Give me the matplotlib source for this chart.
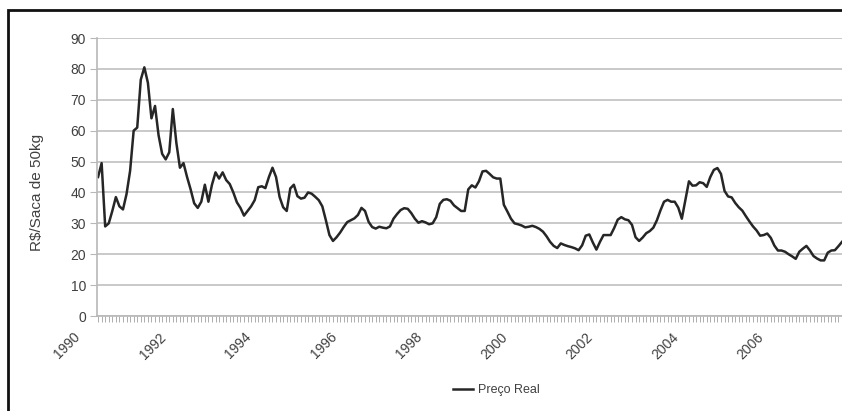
import numpy as np
import matplotlib.pyplot as plt
from matplotlib.patches import Rectangle
from matplotlib.transforms import offset_copy

plt.rcParams['font.family'] = ['Liberation Sans', 'DejaVu Sans']

# preço real mensal (R$/saca de 50kg), jan/1990 em diante
preco_real = [
    45, 49.5, 29, 30, 34, 38.5, 35.5, 34.5, 39.5, 47, 60, 61,
    76.5, 80.5, 75.5, 64, 68, 58.5, 52.5, 50.7, 53, 67, 56, 48,
    49.5, 45, 41, 36.5, 35, 37, 42.5, 37, 42.5, 46.5, 44.5, 46.5,
    44, 42.7, 40, 36.8, 35, 32.5, 34, 35.5, 37.5, 41.7, 42, 41.4,
    45, 48, 45, 38.5, 35.2, 34, 41.3, 42.5, 38.8, 38, 38.3, 40,
    39.6, 38.6, 37.5, 35.5, 31, 26.2, 24.3, 25.5, 27, 28.8, 30.4, 31,
    31.6, 32.7, 35, 34, 30.5, 28.8, 28.3, 28.9, 28.6, 28.4, 29, 31.5,
    33, 34.3, 34.9, 34.7, 33.3, 31.5, 30.2, 30.7, 30.3, 29.7, 30, 32,
    36.3, 37.6, 37.8, 37.3, 35.8, 34.9, 34, 34, 41, 42.3, 41.6, 43.6,
    46.8, 47, 46, 44.9, 44.5, 44.5, 36, 33.8, 31.5, 30, 29.7, 29.3,
    28.7, 28.9, 29.2, 28.8, 28.2, 27.3, 25.8, 24, 22.7, 22, 23.5, 23,
    22.6, 22.3, 21.9, 21.3, 22.9, 26, 26.4, 23.8, 21.5, 24, 26.2, 26.2,
    26.2, 28.5, 31.2, 32, 31.3, 31, 29.5, 25.5, 24.3, 25.4, 26.8, 27.5,
    28.6, 31, 34.2, 37, 37.6, 37, 37, 35.1, 31.5, 37.5, 43.6, 42.2,
    42.3, 43.3, 43, 41.8, 45, 47.3, 47.9, 46, 40.5, 38.7, 38.4, 36.6,
    35.2, 34.1, 32.3, 30.6, 29, 27.7, 26, 26.2, 26.7, 25.3, 22.8, 21.2,
    21.2, 20.8, 20, 19.3, 18.5, 20.8, 21.8, 22.7, 21.2, 19.4, 18.6, 18,
    18, 20.5, 21.2, 21.3, 22.6, 24,
]
anos = ['1990', '1992', '1994', '1996', '1998', '2000', '2002', '2004', '2006']

W, H = 842, 411
fig = plt.figure(figsize=(W / 100, H / 100), dpi=100)
ax = fig.add_axes([97 / W, 95 / H, 1 - 97 / W, (373 - 95) / H])

x = np.arange(len(preco_real))
ax.plot(x, preco_real, color='#262626', lw=1.8, label='Preço Real')

ax.set_ylim(0, 90)
ax.set_yticks(range(0, 91, 10))
ax.set_xlim(-0.3, 208.4)
ax.yaxis.grid(True, color='#c0c0c0', lw=1.2)
ax.set_axisbelow(True)
for s in ['top', 'right']:
    ax.spines[s].set_visible(False)
ax.spines['left'].set_color('#b8b8b8')
ax.spines['bottom'].set_color('#b8b8b8')
ax.spines['left'].set_linewidth(1.2)
ax.spines['bottom'].set_linewidth(1.2)

ax.tick_params(axis='y', length=5, color='#b8b8b8', labelsize=10,
               labelcolor='#404040', pad=3)
# um traço por mês no eixo x
ax.set_xticks(x)
ax.set_xticklabels([])
ax.tick_params(axis='x', length=4, width=0.6, color='#a0a0a0')

# rótulos de ano a cada 24 meses, inclinados
lbl_tr = offset_copy(ax.get_xaxis_transform(), fig=fig, x=-15, y=-14, units='dots')
for k, ano in enumerate(anos):
    ax.text(24 * k, 0, ano, transform=lbl_tr, rotation=45, ha='right', va='top',
            fontsize=10, color='#404040')

fig.text(37 / W, 1 - 192 / H, r'R\$/Saca de 50kg', rotation=90, ha='center',
         va='center', fontsize=11, color='#404040')

fig.legend(loc='center', bbox_to_anchor=(496 / W, 1 - 390 / H), frameon=False,
           fontsize=9, handlelength=1.6, handletextpad=0.4, labelcolor='#404040')

# moldura
fig.patches.append(Rectangle((8 / W, -0.1), 1.2, 1 - 10 / H + 0.1,
                             transform=fig.transFigure, fill=False, lw=2,
                             ec='#111111'))

fig.savefig('out.png', dpi=100)
